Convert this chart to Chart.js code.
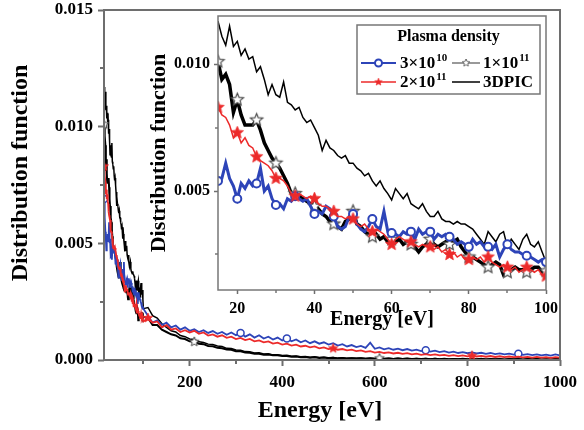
<!DOCTYPE html>
<html>
<head>
<meta charset="utf-8">
<script src="https://cdn.jsdelivr.net/npm/chart.js@4"></script>
<style>
  html, body { margin: 0; padding: 0; background: #fff; }
  #wrap { position: relative; width: 584px; height: 430px; }
  #main { position: absolute; left: 0; top: 0; }
  #inset { position: absolute; left: 140px; top: 0; }
</style>
</head>
<body>
<div id="wrap">
  <canvas id="main" width="584" height="430"></canvas>
  <canvas id="inset" width="444" height="340"></canvas>
</div>
<script>
// ---- Energy grids [eV] ----
const lowEnergy = [15,16,17,18,19,20,21,22,23,24,25,26,27,28,29,30,31,32,33,34,35,36,37,38,39,40,
  41,42,43,44,45,46,47,48,49,50,51,52,53,54,55,56,57,58,59,60,61,62,63,64,65,66,67,68,69,70,
  71,72,73,74,75,76,77,78,79,80,81,82,83,84,85,86,87,88,89,90,91,92,93,94,95,96,97,98,99,100];
const highEnergy = [110,120,130,140,150,160,170,180,190,200,210,220,230,240,250,260,270,280,290,300,
  310,320,330,340,350,360,370,380,390,400,410,420,430,440,450,460,470,480,490,500,
  510,520,530,540,550,560,570,580,590,600,610,620,630,640,650,660,670,680,690,700,
  710,720,730,740,750,760,770,780,790,800,810,820,830,840,850,860,870,880,890,900,
  910,920,930,940,950,960,970,980,990,1000];

// ---- Distribution function, 15-100 eV ----
const picLow = [0.0117,0.0111,0.01075,0.0115,0.0107,0.0109,0.01035,0.0106,0.0102,0.0103,
  0.0097,0.0099,0.0094,0.0088,0.0092,0.0088,0.0087,0.0093,0.0085,0.0084,
  0.0082,0.0083,0.0079,0.0077,0.0078,0.0075,0.0072,0.0066,0.0070,0.0067,
  0.0066,0.0064,0.0063,0.0064,0.0061,0.0061,0.0059,0.0058,0.0056,0.0057,
  0.0054,0.0052,0.0054,0.0051,0.0049,0.00465,0.0051,0.0049,0.0047,0.0049,
  0.0045,0.0044,0.0043,0.0045,0.0042,0.0040,0.0040,0.0042,0.0039,0.0038,
  0.0038,0.0037,0.0038,0.0037,0.0037,0.0036,0.0035,0.0033,0.0031,0.0029,
  0.0034,0.0032,0.0030,0.0033,0.0034,0.0028,0.0031,0.0029,0.0027,0.0031,
  0.0033,0.0029,0.0028,0.0030,0.0026,0.0022];
const k11Low = [0.0101,0.0094,0.0096,0.0092,0.0081,0.0086,0.0080,0.0076,0.0076,0.0076,
  0.0078,0.0074,0.0069,0.0066,0.0063,0.0061,0.0059,0.0056,0.0053,0.0049,
  0.0049,0.0048,0.0047,0.0046,0.0045,0.0044,0.0043,0.0041,0.0040,0.0038,
  0.0037,0.0036,0.0035,0.0038,0.0039,0.0042,0.0037,0.0036,0.0034,0.0033,
  0.0032,0.0033,0.0031,0.0032,0.0030,0.0031,0.0030,0.0031,0.0029,0.0030,
  0.0029,0.0028,0.0026,0.0028,0.0029,0.0031,0.0029,0.0028,0.0029,0.0030,
  0.0029,0.0030,0.0031,0.0028,0.0026,0.0024,0.0024,0.0023,0.0022,0.0021,
  0.0020,0.0021,0.0022,0.0021,0.0017,0.0018,0.0019,0.0020,0.0019,0.0019,
  0.0018,0.0019,0.0020,0.0020,0.0018,0.00185];
const blueLow = [0.0054,0.0055,0.0061,0.0055,0.0052,0.0047,0.0053,0.0051,0.0054,0.0052,
  0.0053,0.0059,0.0050,0.0052,0.0047,0.00445,0.0045,0.0043,0.0047,0.0046,
  0.0048,0.0047,0.0046,0.0047,0.0044,0.0041,0.0042,0.0041,0.0044,0.0043,
  0.0040,0.0036,0.0035,0.0036,0.0040,0.0041,0.0037,0.0035,0.0034,0.0036,
  0.0039,0.0036,0.0035,0.0042,0.0034,0.00335,0.0033,0.0032,0.0034,0.0033,
  0.0034,0.0031,0.0035,0.0033,0.0034,0.0034,0.0031,0.0033,0.0032,0.0033,
  0.0032,0.0031,0.0029,0.0030,0.0029,0.0028,0.0031,0.0029,0.0030,0.0028,
  0.0028,0.0027,0.0029,0.0024,0.0027,0.0029,0.0027,0.0026,0.0026,0.0025,
  0.00245,0.0024,0.0023,0.0022,0.0023,0.0022];
const redLow = [0.0083,0.0080,0.0079,0.0076,0.0071,0.0073,0.0069,0.0071,0.0068,0.0067,
  0.00635,0.0062,0.0061,0.0060,0.0058,0.0055,0.0055,0.0054,0.0052,0.0049,
  0.0048,0.0049,0.0048,0.0047,0.0048,0.0047,0.0045,0.0044,0.0044,0.0043,
  0.0042,0.0040,0.0040,0.0039,0.0040,0.0039,0.0037,0.0036,0.0037,0.0035,
  0.0034,0.0035,0.0034,0.0033,0.0031,0.0029,0.0031,0.0032,0.0031,0.0030,
  0.0030,0.0029,0.0028,0.0029,0.0028,0.0028,0.0027,0.0028,0.0026,0.0027,
  0.0025,0.0026,0.0024,0.0025,0.0023,0.0023,0.0024,0.0023,0.0024,0.0022,
  0.0024,0.0022,0.0021,0.0020,0.0021,0.0020,0.0019,0.0020,0.0018,0.0019,
  0.0020,0.0019,0.0018,0.0019,0.0017,0.00165];
// first bin of the 3×10^10 run on the full-range plot
const blueMainFirst = 0.0069;

// ---- Distribution function, 110-1000 eV ----
const picHigh = [0.00225,0.0019,0.0018,0.00155,0.0014,0.00125,0.0012,0.00105,0.001,0.0009,
  0.00088,0.00078,0.00075,0.00068,0.00066,0.0006,0.00058,0.0005,0.00049,0.00043,
  0.00042,0.00036,0.00035,0.0003,0.00031,0.00026,0.00027,0.00022,0.00023,0.00019,
  0.0002,0.00016,0.00017,0.00014,0.00015,0.00012,0.00014,0.00011,0.00012,0.0001,
  0.00011,0.00008,0.0001,0.00007,0.00009,0.00007,0.00009,0.00006,0.00008,0.00006,
  0.00008,0.00005,0.00007,0.00005,0.00007,0.00005,0.00006,0.00004,0.00006,0.00004,
  0.00006,0.00004,0.00006,0.00004,0.00005,0.00003,0.00005,0.00004,0.00005,0.00003,
  0.00005,0.00003,0.00005,0.00003,0.00004,0.00003,0.00004,0.00002,0.00004,0.00003,
  0.00004,0.00002,0.00004,0.00003,0.00004,0.00002,0.00003,0.00002,0.00004,0.00003];
const k11High = [0.0018,0.0015,0.0015,0.0013,0.0012,0.0011,0.00105,0.00093,0.0009,0.0008,
  0.00078,0.0007,0.00068,0.0006,0.00059,0.00052,0.0005,0.00045,0.00044,0.00038,
  0.00037,0.00032,0.00031,0.00027,0.00027,0.00023,0.00024,0.0002,0.0002,0.00017,
  0.00017,0.00014,0.00015,0.00012,0.00013,0.0001,0.00012,0.00009,0.00011,0.00008,
  0.0001,0.00007,0.00009,0.00006,0.00008,0.00006,0.00008,0.00005,0.00007,0.00005,
  0.00007,0.00005,0.00006,0.00004,0.00006,0.00004,0.00006,0.00004,0.00005,0.00004,
  0.00005,0.00003,0.00005,0.00003,0.00005,0.00003,0.00004,0.00003,0.00005,0.00003,
  0.00004,0.00003,0.00005,0.00002,0.00004,0.00003,0.00004,0.00002,0.00004,0.00003,
  0.00004,0.00002,0.00004,0.00003,0.00004,0.00002,0.00003,0.00002,0.00004,0.00003];
const blueHigh = [0.0019,0.0016,0.0017,0.0015,0.0016,0.0014,0.00148,0.0013,0.0014,0.00125,
  0.00132,0.0012,0.00128,0.00116,0.00124,0.00112,0.0012,0.00108,0.00118,0.00106,
  0.00116,0.001,0.0011,0.00096,0.00106,0.00092,0.001,0.00088,0.00096,0.00084,
  0.00092,0.0008,0.00088,0.00076,0.00084,0.00072,0.0008,0.0007,0.00076,0.00066,
  0.00072,0.00062,0.00068,0.00058,0.00064,0.00055,0.0006,0.00052,0.00074,0.00048,
  0.00054,0.00046,0.00051,0.00044,0.00049,0.00042,0.00047,0.0004,0.00044,0.00038,
  0.00042,0.00036,0.0004,0.00034,0.00038,0.00032,0.00036,0.0003,0.00034,0.00029,
  0.00033,0.00028,0.00031,0.00026,0.0003,0.00025,0.00028,0.00024,0.00027,0.00023,
  0.00027,0.00022,0.00025,0.00021,0.00024,0.0002,0.00023,0.00019,0.00024,0.0002];
const redHigh = [0.0018,0.0016,0.00165,0.0014,0.0015,0.0013,0.00135,0.0012,0.00128,0.00118,
  0.00125,0.00112,0.00118,0.00105,0.0011,0.001,0.00106,0.00095,0.001,0.0009,
  0.00095,0.00085,0.0009,0.0008,0.00084,0.00076,0.0008,0.0007,0.00074,0.00066,
  0.0007,0.00062,0.00066,0.00058,0.00061,0.00054,0.00058,0.0005,0.00054,0.00047,
  0.0005,0.00044,0.00047,0.00041,0.00044,0.00038,0.00041,0.00035,0.00038,0.00032,
  0.00035,0.0003,0.00033,0.00028,0.00031,0.00026,0.00029,0.00024,0.00027,0.00022,
  0.00025,0.00021,0.00024,0.0002,0.00022,0.00018,0.00021,0.00017,0.0002,0.00016,
  0.00019,0.00015,0.00018,0.00014,0.00017,0.00013,0.00016,0.00012,0.00015,0.00012,
  0.00014,0.00011,0.00013,0.0001,0.00013,0.0001,0.00012,0.00009,0.00012,0.0001];

// ---- Marker positions [eV] ----
const insetMarkerEnergy = [15,20,25,30,35,40,45,50,55,60,65,70,75,80,85,90,95,100];
const blueMainMarkers = [15,310,410,710,910];
const redMainMarkers = [15,110,510,810];
const k11MainMarkers = [15,210,610];

// ---- Ticks and labels ----
const mainXTicks = [200,400,600,800,1000];
const mainXMinor = [100,300,500,700,900];
const mainYTicks = [0.000,0.005,0.010,0.015];
const mainYMinor = [0.0025,0.0075,0.0125];
const insetXTicks = [20,40,60,80,100];
const insetXMinor = [30,50,70,90];
const insetYTicks = [0.005,0.010];
const insetYMinor = [0.0025,0.0075];
const seriesNames = ['3×10^10','1×10^11','2×10^11','3DPIC'];
const legendBase = ['3×10','1×10','2×10','3DPIC'];
const legendSup = ['10','11','11',''];
const legendTitle = 'Plasma density';
const xTitle = 'Energy [eV]';
const yTitle = 'Distribution function';

const FONT = '"Liberation Serif", "Times New Roman", serif';
const AXIS = '#6e6e6e';
const BLUE = '#2d44b8';
const RED = '#ec2a2a';
const BLACK = '#000000';

function toPoints(eA, vA, eB, vB) {
  const pts = eA.map((e, i) => ({ x: e, y: vA[i] }));
  if (eB) eB.forEach((e, i) => pts.push({ x: e, y: vB[i] }));
  return pts;
}

function starImage(r, fill, stroke, lw) {
  const pad = Math.ceil(lw) + 1;
  const size = Math.ceil(2 * r + 2 * pad);
  const c = document.createElement('canvas');
  c.width = size; c.height = size;
  const g = c.getContext('2d');
  g.beginPath();
  for (let i = 0; i < 10; i++) {
    const rad = i % 2 === 0 ? r : r * 0.45;
    const a = -Math.PI / 2 + i * Math.PI / 5;
    const px = size / 2 + rad * Math.cos(a), py = size / 2 + rad * Math.sin(a);
    if (i) g.lineTo(px, py); else g.moveTo(px, py);
  }
  g.closePath();
  g.fillStyle = fill; g.fill();
  if (stroke) { g.strokeStyle = stroke; g.lineWidth = lw; g.stroke(); }
  return c;
}

const redStarBig = starImage(6.5, RED, RED, 0.8);
const greyStarBig = starImage(6.5, '#ffffff', '#4a4a4a', 1.2);
const redStarSmall = starImage(5, RED, RED, 0.6);
const greyStarSmall = starImage(5, '#ffffff', '#4a4a4a', 1);

function markerRadius(list, r) {
  const set = new Set(list);
  return (c) => (c.raw && set.has(c.raw.x)) ? r : 0;
}

// Box round the plot area
const framePlugin = {
  id: 'frame',
  afterDatasetsDraw(chart, args, opts) {
    const a = chart.chartArea, ctx = chart.ctx;
    ctx.save();
    ctx.strokeStyle = opts.color; ctx.lineWidth = opts.width;
    ctx.strokeRect(a.left, a.top, a.right - a.left, a.bottom - a.top);
    ctx.restore();
  }
};

// Short outward minor ticks
const minorPlugin = {
  id: 'minorTicks',
  afterDraw(chart, args, opts) {
    const ctx = chart.ctx, a = chart.chartArea;
    const xs = chart.scales.x, ys = chart.scales.y;
    ctx.save();
    ctx.strokeStyle = opts.color; ctx.lineWidth = opts.width;
    ctx.beginPath();
    (opts.x || []).forEach(v => {
      const p = Math.round(xs.getPixelForValue(v));
      ctx.moveTo(p, a.bottom); ctx.lineTo(p, a.bottom + opts.length);
    });
    (opts.y || []).forEach(v => {
      const p = Math.round(ys.getPixelForValue(v));
      ctx.moveTo(a.left, p); ctx.lineTo(a.left - opts.length, p);
    });
    ctx.stroke();
    ctx.restore();
  }
};

// Legend box inside the inset
const legendPlugin = {
  id: 'insetLegend',
  afterDraw(chart) {
    const ctx = chart.ctx, a = chart.chartArea;
    const w = 183, h = 69;
    const L = a.right - 6 - w, T = a.top + 9;
    ctx.save();
    ctx.fillStyle = '#fff';
    ctx.fillRect(L, T, w, h);
    ctx.strokeStyle = '#777'; ctx.lineWidth = 1.5;
    ctx.strokeRect(L, T, w, h);
    ctx.fillStyle = '#000';
    ctx.textBaseline = 'middle';
    ctx.textAlign = 'center';
    ctx.font = 'bold 16px ' + FONT;
    ctx.fillText(legendTitle, L + w / 2, T + 12);
    const cols = [{ s: 4, e: 39, t: 43 }, { s: 95, e: 123, t: 126 }];
    const rows = [T + 38, T + 57];
    const entries = [
      { c: 0, r: 0, color: BLUE, lw: 2, mark: 'circle' },
      { c: 1, r: 0, color: '#555', lw: 1.2, mark: greyStarSmall },
      { c: 0, r: 1, color: RED, lw: 1.5, mark: redStarSmall },
      { c: 1, r: 1, color: BLACK, lw: 1.5, mark: null }
    ];
    entries.forEach((en, i) => {
      const col = cols[en.c], y = rows[en.r];
      ctx.strokeStyle = en.color; ctx.lineWidth = en.lw;
      ctx.beginPath(); ctx.moveTo(L + col.s, y); ctx.lineTo(L + col.e, y); ctx.stroke();
      const mx = L + (col.s + col.e) / 2;
      if (en.mark === 'circle') {
        ctx.fillStyle = '#fff';
        ctx.beginPath(); ctx.arc(mx, y, 3.5, 0, Math.PI * 2); ctx.fill(); ctx.stroke();
      } else if (en.mark) {
        const m = en.mark;
        ctx.drawImage(m, mx - m.width / 2 * 0.8, y - m.height / 2 * 0.8, m.width * 0.8, m.height * 0.8);
      }
      ctx.fillStyle = '#000';
      ctx.textAlign = 'left';
      ctx.font = 'bold 17px ' + FONT;
      ctx.fillText(legendBase[i], L + col.t, y + 1);
      if (legendSup[i]) {
        const bw = ctx.measureText(legendBase[i]).width;
        ctx.font = 'bold 11px ' + FONT;
        ctx.fillText(legendSup[i], L + col.t + bw + 1, y - 5);
      }
    });
    ctx.restore();
  }
};

function axisCommon(size) {
  return {
    border: { display: false },
    grid: { drawOnChartArea: false, drawTicks: true, color: AXIS, tickColor: AXIS },
    ticks: { color: '#000', font: { family: FONT, size: size, weight: 'bold' }, autoSkip: false, maxRotation: 0 }
  };
}

// ---- Main plot ----
const mainX = axisCommon(17);
Object.assign(mainX, {
  type: 'linear', min: 15, max: 1000,
  afterBuildTicks: s => { s.ticks = mainXTicks.map(v => ({ value: v })); },
  afterFit: s => { s.height = 70; },
  title: { display: true, text: xTitle + '    ', color: '#000', font: { family: FONT, size: 24, weight: 'bold' }, padding: { top: 0, bottom: 5 } }
});
mainX.grid.tickLength = 6; mainX.grid.tickWidth = 2; mainX.ticks.padding = 6;
mainX.ticks.callback = v => String(v);

const mainY = axisCommon(17);
Object.assign(mainY, {
  type: 'linear', min: 0, max: 0.015,
  afterBuildTicks: s => { s.ticks = mainYTicks.map(v => ({ value: v })); },
  afterFit: s => { s.width = 104; },
  title: { display: true, text: '    ' + yTitle, color: '#000', font: { family: FONT, size: 24, weight: 'bold' }, padding: { top: 6, bottom: 0 } }
});
mainY.grid.tickLength = 6; mainY.grid.tickWidth = 2; mainY.ticks.padding = 5;
mainY.ticks.font.lineHeight = 0.5;
mainY.ticks.callback = v => v.toFixed(3);

const blueMainPoints = toPoints(lowEnergy, blueLow, highEnergy, blueHigh);
blueMainPoints[0].y = blueMainFirst;

new Chart(document.getElementById('main'), {
  type: 'line',
  data: {
    datasets: [
      { label: seriesNames[2], data: toPoints(lowEnergy, redLow, highEnergy, redHigh), borderColor: RED, borderWidth: 1.8,
        pointStyle: redStarSmall, pointRadius: markerRadius(redMainMarkers, 5) },
      { label: seriesNames[0], data: blueMainPoints, borderColor: BLUE, borderWidth: 1.8,
        pointStyle: 'circle', pointBackgroundColor: '#fff', pointBorderColor: BLUE, pointBorderWidth: 1.5, pointRadius: markerRadius(blueMainMarkers, 3.5) },
      { label: seriesNames[1], data: toPoints(lowEnergy, k11Low, highEnergy, k11High), borderColor: BLACK, borderWidth: 2,
        pointStyle: greyStarSmall, pointRadius: markerRadius(k11MainMarkers, 5) },
      { label: seriesNames[3], data: toPoints(lowEnergy, picLow, highEnergy, picHigh), borderColor: BLACK, borderWidth: 1.5, pointRadius: 0 }
    ]
  },
  options: {
    responsive: false, animation: false, events: [],
    layout: { padding: { top: 10, right: 24, left: 0, bottom: 0 } },
    elements: { line: { tension: 0 } },
    plugins: {
      legend: { display: false }, tooltip: { enabled: false },
      frame: { color: AXIS, width: 2 },
      minorTicks: { x: mainXMinor, y: mainYMinor, length: 4, color: AXIS, width: 2 }
    },
    scales: { x: mainX, y: mainY }
  },
  plugins: [framePlugin, minorPlugin]
});

// ---- Inset: 15-100 eV ----
const insetX = axisCommon(16);
Object.assign(insetX, {
  type: 'linear', min: 15, max: 100,
  afterBuildTicks: s => { s.ticks = insetXTicks.map(v => ({ value: v })); },
  afterFit: s => { s.height = 50; },
  title: { display: true, text: xTitle, color: '#000', font: { family: FONT, size: 20, weight: 'bold' }, padding: { top: 0, bottom: 8 } }
});
insetX.grid.tickLength = 4; insetX.grid.tickWidth = 1.5; insetX.ticks.padding = 5;

const insetY = axisCommon(16);
Object.assign(insetY, {
  type: 'linear', min: 0.0011, max: 0.0119,
  afterBuildTicks: s => { s.ticks = insetYTicks.map(v => ({ value: v })); },
  afterFit: s => { s.width = 78; },
  title: { display: true, text: yTitle, color: '#000', font: { family: FONT, size: 22, weight: 'bold' }, padding: { top: 6, bottom: 0 } }
});
insetY.grid.tickLength = 4; insetY.grid.tickWidth = 1.5; insetY.ticks.padding = 4;
insetY.ticks.callback = v => v.toFixed(3);

new Chart(document.getElementById('inset'), {
  type: 'line',
  data: {
    datasets: [
      { label: seriesNames[2], data: toPoints(lowEnergy, redLow), borderColor: RED, borderWidth: 1.5,
        pointStyle: redStarBig, pointRadius: markerRadius(insetMarkerEnergy, 6) },
      { label: seriesNames[0], data: toPoints(lowEnergy, blueLow), borderColor: BLUE, borderWidth: 3,
        pointStyle: 'circle', pointBackgroundColor: '#fff', pointBorderColor: BLUE, pointBorderWidth: 2, pointRadius: markerRadius(insetMarkerEnergy, 4) },
      { label: seriesNames[1], data: toPoints(lowEnergy, k11Low), borderColor: BLACK, borderWidth: 3.5,
        pointStyle: greyStarBig, pointRadius: markerRadius(insetMarkerEnergy, 6) },
      { label: seriesNames[3], data: toPoints(lowEnergy, picLow), borderColor: BLACK, borderWidth: 1.5, pointRadius: 0 }
    ]
  },
  options: {
    responsive: false, animation: false, events: [],
    layout: { padding: { top: 16, right: 38, left: 0, bottom: 0 } },
    elements: { line: { tension: 0 } },
    plugins: {
      legend: { display: false }, tooltip: { enabled: false },
      frame: { color: '#777', width: 1.5 },
      minorTicks: { x: insetXMinor, y: insetYMinor, length: 3, color: '#777', width: 1.5 }
    },
    scales: { x: insetX, y: insetY }
  },
  plugins: [framePlugin, minorPlugin, legendPlugin]
});
</script>
</body>
</html>
